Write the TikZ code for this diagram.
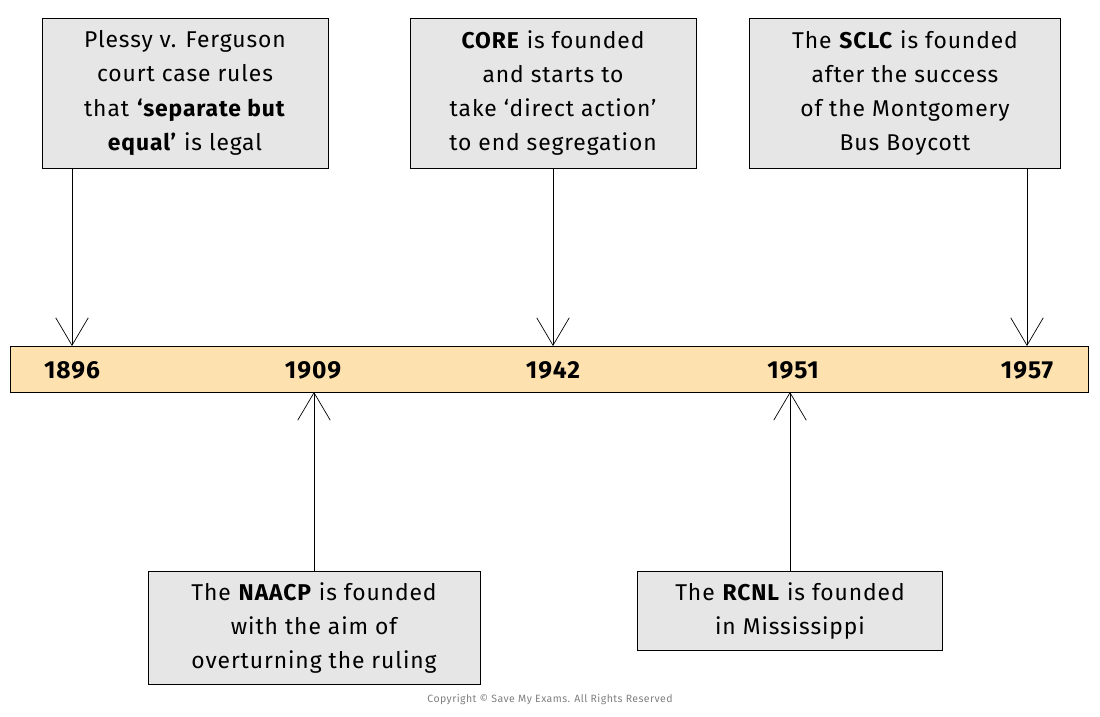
\documentclass[tikz,border=0pt]{standalone}
\usepackage{fontspec}
\setmainfont{Fira Sans}[LetterSpace=4]
\usetikzlibrary{arrows.meta}
\definecolor{barfill}{HTML}{FDE2B0}
\definecolor{boxfill}{HTML}{E6E6E6}
\begin{document}
\begin{tikzpicture}[x=0.02cm,y=-0.02cm,font=\fontsize{13}{19.5}\selectfont,
  event/.style={draw=black,fill=boxfill,align=center,inner sep=0pt},
  year/.style={font=\fontsize{14}{16}\selectfont\bfseries},
  pointer/.style={-{Straight Barb[length=5.5mm,width=6.5mm]}}]
\useasboundingbox (0,0) rectangle (1100,717);

\node[draw=black,fill=barfill,minimum width=1078*0.02cm,minimum height=46*0.02cm,inner sep=0pt] (bar) at (549,369) {};
\node[year] (y1896) at (72,370) {1896};
\node[year] (y1909) at (313,370) {1909};
\node[year] (y1942) at (553,370) {1942};
\node[year] (y1951) at (793,370) {1951};
\node[year] (y1957) at (1027,370) {1957};

\node[event,minimum width=286*0.02cm,minimum height=150*0.02cm] (plessy) at (185,93) {Plessy v. Ferguson\\court case rules\\that \textbf{`separate but}\\\textbf{equal'} is legal};
\node[event,minimum width=286*0.02cm,minimum height=150*0.02cm] (core) at (553,93) {\textbf{CORE} is founded\\and starts to\\take `direct action'\\to end segregation};
\node[event,minimum width=311*0.02cm,minimum height=150*0.02cm] (sclc) at (905,93) {The \textbf{SCLC} is founded\\after the success\\of the Montgomery\\Bus Boycott};
\node[event,minimum width=332*0.02cm,minimum height=113*0.02cm] (naacp) at (314,628) {The \textbf{NAACP} is founded\\with the aim of\\overturning the ruling};
\node[event,minimum width=305*0.02cm,minimum height=79*0.02cm] (rcnl) at (790,611) {The \textbf{RCNL} is founded\\in Mississippi};

\draw[pointer] (72,168) -- (72,346);
\draw[pointer] (core.south) -- (553,346);
\draw[pointer] (1027,168) -- (1027,346);
\draw[pointer] (naacp.north) -- (314,392);
\draw[pointer] (rcnl.north) -- (790,392);

\node[gray,font=\fontsize{6}{7}\selectfont] (copy) at (550,700) {Copyright © Save My Exams. All Rights Reserved};
\end{tikzpicture}
\end{document}
